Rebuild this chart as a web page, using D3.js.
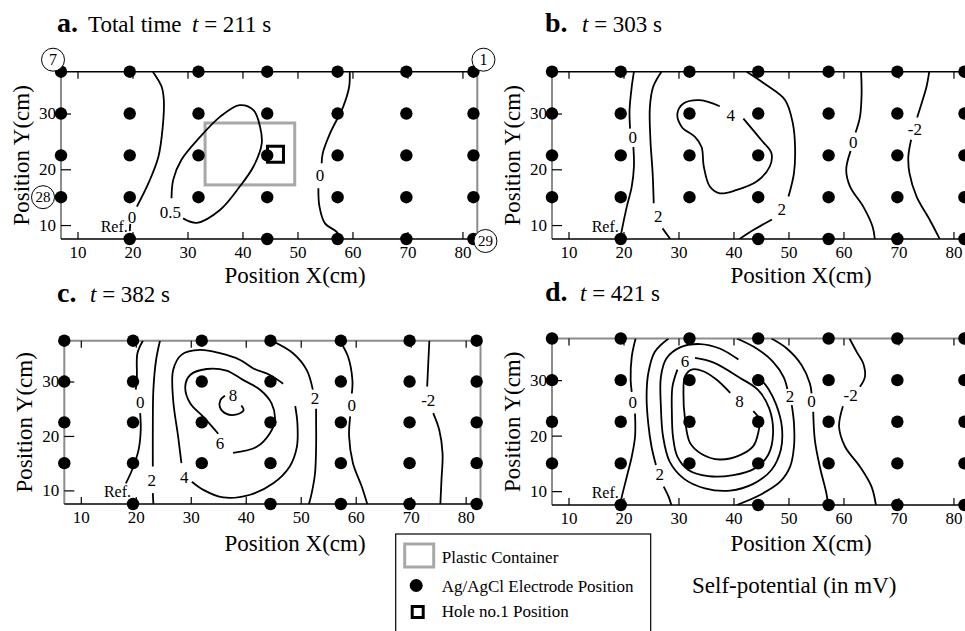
<!DOCTYPE html>
<meta charset="UTF-8">
<style>
body { margin: 0; background: #fff; }
text { font-family: "Liberation Serif", "Times New Roman", serif; fill: #000; }
.contour { fill: none; stroke: #000; stroke-width: 1.8px; }
.clabel { font-size: 17px; text-anchor: middle; }
.frame-side { stroke: #8c8c8c; stroke-width: 2px; }
.frame-bottom { stroke: #000; stroke-width: 1.5px; }
.tick line { stroke: #000; stroke-width: 1.2px; }
.tick text { font-size: 17px; font-family: "Liberation Serif", "Times New Roman", serif; }
.axis-title { font-size: 23px; text-anchor: middle; }
</style>
<body>
<script src="https://cdnjs.cloudflare.com/ajax/libs/d3/7.8.5/d3.min.js"></script>
<script>
// ---- data ----
const xDomain = [7, 82.7];
const yDomain = [7.5, 37.5];
const xTicks = [10, 20, 30, 40, 50, 60, 70, 80];
const yTicks = [10, 20, 30];

// electrode grid (cm)
const electrodeX = [7, 19.5, 32, 44.5, 57.3, 69.8, 82];
const electrodeRowY = [37.5, 30, 22.5, 15];
const bottomRowX = [19.5, 44.5, 57.3, 69.8, 82];
const bottomRowY = 7.5;
const refElectrode = [19.5, 7.5];
const electrodeNumbers = [
  {n: "7", x: 7, y: 37.5}, {n: "1", x: 82, y: 37.5},
  {n: "28", x: 7, y: 15}, {n: "29", x: 82, y: 7.5}
];

// plastic container and hole no.1 (panel a)
const containerX = [33.2, 49.5];
const containerY = [17.2, 28.3];
const holePos = [46.0, 22.7];

const panelLetters = ["a.", "b.", "c.", "d."];
const panelTimes = [211, 303, 382, 421];

// contour lines: level, line pieces (x,y in cm), label spot
const contoursA = [
  {level: "0", at: [19.9, 11.5], segs: [
    [[23.7,37.5],[25.3,34.8],[25.7,32.4],[25.5,27.6],[24.7,22.2],[22.9,17.5],[20.8,13.3]],
    [[19.6,10.2],[19.5,8.9]]]},
  {level: "0.5", at: [26.9, 12.4], segs: [
    [[27.1,14.8],[27.4,18.1],[28.9,21.7],[32.3,25.8],[35.9,29.4],[39.5,31.5],[42.0,30.6],[43.2,27.6],
     [43.5,24.6],[42.0,20.5],[39.5,16.9],[35.9,12.7],[31.7,10.4],[29.2,11.2]]]},
  {level: "0", at: [54.1, 19.0], segs: [
    [[59.5,37.5],[59.4,34.8],[58.3,31.2],[55.9,26.4],[54.6,22.9],[54.4,21.1]],
    [[53.8,16.6],[54.0,13.3],[55.0,10.3],[57.1,8.8],[58.0,7.5]]]}
];
const contoursB = [
  {level: "0", at: [21.7, 25.7], segs: [
    [[21.9,37.5],[21.5,34.8],[21.1,30.6],[21.2,27.3]],
    [[21.8,24.0],[21.9,20.5],[21.5,16.9],[20.6,13.3],[19.7,9.1],[19.4,7.5]]]},
  {level: "2", at: [26.3, 11.6], segs: [
    [[26.9,37.5],[25.4,34.8],[24.8,31.2],[24.9,25.2],[25.3,19.3],[25.5,13.9]],
    [[27.1,9.4],[28.5,7.5]]]},
  {level: "4", at: [39.5, 29.7], segs: [
    [[37.5,31.3],[33.9,32.4],[30.9,31.8],[29.8,30.0],[30.6,27.6],[33.0,25.8],[34.2,24.0],[34.6,20.5],
     [35.7,16.9],[37.5,15.7],[40.6,16.3],[44.2,17.8],[46.6,20.5],[46.9,22.9],[45.1,25.2],[41.8,29.1]]]},
  {level: "2", at: [48.8, 12.9], segs: [
    [[42.4,37.5],[46.0,35.1],[49.4,32.4],[50.8,28.2],[51.2,24.0],[51.0,19.3],[50.0,15.1]],
    [[47.0,11.0],[43.6,9.1],[41.1,7.5]]]},
  {level: "0", at: [61.8, 24.9], segs: [
    [[63.2,37.5],[63.3,33.6],[63.0,29.4],[62.2,26.6]],
    [[61.3,23.3],[60.5,19.9],[61.2,16.9],[63.6,13.3],[65.3,9.7],[65.7,7.5]]]},
  {level: "-2", at: [73.0, 27.3], segs: [
    [[75.6,37.5],[75.1,34.8],[74.2,31.8],[73.4,29.3]],
    [[72.3,25.3],[71.8,22.3],[72.0,19.3],[73.3,15.1],[75.7,10.9],[77.5,7.5]]]}
];
const contoursC = [
  {level: "0", at: [20.8, 26.3], segs: [
    [[21.3,37.5],[20.3,35.2],[20.2,30.9],[20.0,28.5]],
    [[20.8,24.2],[20.9,21.1],[20.5,17.4],[19.3,13.7],[18.2,11.3]]]},
  {level: "2", at: [22.9, 11.9], segs: [
    [[24.4,37.5],[23.7,34.0],[23.2,28.5],[23.1,21.1],[23.1,14.4]],
    [[23.1,9.5],[23.2,7.5]]]},
  {level: "4", at: [28.8, 12.5], segs: [
    [[28.3,15.0],[27.7,19.9],[26.8,26.6],[26.8,32.1],[28.3,34.9],[31.7,35.8],[35.3,35.2],[38.9,34.0],
     [41.4,32.4],[44.4,31.2],[46.8,29.6]],
    [[49.0,25.5],[49.4,22.3],[49.3,18.0],[48.0,14.4],[45.0,11.3],[40.8,9.2],[35.9,8.7],[32.3,10.1],[30.2,11.6]]]},
  {level: "6", at: [35.3, 18.7], segs: [
    [[35.0,20.4],[32.3,23.5],[29.9,26.0],[29.0,29.1],[29.9,31.2],[32.9,32.3],[36.5,32.0],[39.5,30.3],
     [42.6,28.5],[44.7,26.0],[45.3,22.9],[44.4,20.5],[42.0,18.0],[37.7,16.9]]]},
  {level: "8", at: [37.7, 27.5], segs: [
    [[36.2,27.4],[35.4,26.6],[35.3,25.3],[36.4,24.1],[38.2,23.9],[39.6,24.7],[39.2,25.6]]]},
  {level: "2", at: [52.6, 26.9], segs: [
    [[44.7,37.5],[48.6,35.2],[51.1,32.1],[52.2,28.5]],
    [[52.8,25.0],[52.8,22.9],[52.8,18.0],[52.6,13.1],[52.0,9.5],[51.5,7.5]]]},
  {level: "0", at: [59.3, 25.7], segs: [
    [[57.1,37.5],[58.6,34.6],[59.4,30.3],[59.3,27.8]],
    [[59.0,23.6],[58.8,19.9],[59.5,15.0],[61.1,10.7],[62.1,7.5]]]},
  {level: "-2", at: [73.2, 26.6], segs: [
    [[73.4,37.5],[73.2,33.4],[73.0,29.1]],
    [[74.1,24.2],[75.2,21.1],[75.8,16.8],[75.6,11.9],[75.4,7.5]]]}
];
const contoursD = [
  {level: "0", at: [21.7, 26.1], segs: [
    [[22.2,37.5],[21.5,34.2],[21.3,30.0],[21.5,27.9]],
    [[22.1,24.0],[22.1,19.8],[21.5,16.2],[20.6,12.6],[19.7,9.0],[19.4,7.5]]]},
  {level: "2", at: [26.6, 13.0], segs: [
    [[28.2,37.5],[25.7,35.1],[24.5,31.2],[24.2,27.0],[24.5,22.2],[25.1,18.0],[25.9,14.7]],
    [[27.3,10.8],[28.2,9.0],[28.7,7.5]]]},
  {level: "", at: null, segs: [
    [[40.9,33.7],[37.5,35.7],[33.9,36.5],[30.3,35.9],[27.8,33.9],[26.8,30.6],[26.8,25.2],[27.2,19.8],
     [28.4,15.3],[30.9,12.3],[34.8,10.5],[39.4,10.1],[43.6,11.3],[46.9,13.8],[48.6,17.4],[48.8,21.6],
     [47.8,25.5],[46.3,28.5],[44.2,31.0]]]},
  {level: "6", at: [31.2, 33.4], segs: [
    [[33.0,34.0],[36.3,33.2],[41.2,30.4],[44.5,28.2],[46.5,24.9],[47.2,20.4],[46.3,16.5],[43.9,14.1],
     [40.0,12.9],[35.4,12.7],[31.8,13.8],[29.8,16.2],[29.0,19.8],[28.8,24.0],[28.9,28.8],[29.8,31.9]]]},
  {level: "8", at: [41.1, 26.3], segs: [
    [[39.4,27.7],[36.9,30.1],[34.5,31.6],[32.4,31.9],[31.2,30.7],[30.9,27.7],[31.2,22.9],[32.1,18.7],
     [34.2,16.7],[37.5,15.7],[41.2,16.5],[43.6,18.1],[44.5,20.5],[44.7,22.9],[43.6,24.4]]]},
  {level: "2", at: [50.3, 27.1], segs: [
    [[40.6,37.5],[44.2,35.7],[47.2,33.3],[49.1,30.6],[49.8,28.4]],
    [[50.6,25.5],[51.0,22.2],[51.0,18.0],[50.3,14.4],[48.5,11.7],[44.8,9.3],[40.6,7.5]]]},
  {level: "0", at: [54.2, 26.2], segs: [
    [[46.9,37.5],[49.7,35.7],[52.4,32.7],[53.9,29.4],[54.2,27.6]],
    [[54.5,24.3],[54.8,19.2],[55.7,14.4],[56.9,9.6],[57.2,7.5]]]},
  {level: "-2", at: [61.3, 27.3], segs: [
    [[61.1,37.5],[62.4,35.1],[63.6,33.0],[63.9,30.6],[63.0,28.8]],
    [[59.9,25.3],[59.2,21.6],[60.3,18.0],[63.0,14.4],[65.1,10.8],[65.9,7.5]]]}
];
const panelContours = [contoursA, contoursB, contoursC, contoursD];

const legendItems = ["Plastic Container", "Ag/AgCl Electrode Position", "Hole no.1 Position"];

// ---- layout ----
const layout = [
  {left: 61, right: 477.3, top: 71.7, bottom: 239, letterX: 57, titleY: 32, tX: 192, xTitleX: 295, xTitleGap: 43.5, topGrey: false},
  {left: 552, right: 968.3, top: 71.7, bottom: 239, letterX: 545, titleY: 32, tX: 582, xTitleX: 801, xTitleGap: 43.5, topGrey: false},
  {left: 64.3, right: 480.5, top: 340.7, bottom: 504, letterX: 57, titleY: 301.5, tX: 90, xTitleX: 295, xTitleGap: 47, topGrey: true},
  {left: 552, right: 968.3, top: 338.5, bottom: 505, letterX: 545, titleY: 300.5, tX: 580, xTitleX: 801, xTitleGap: 46, topGrey: true}
];
const serif = '"Liberation Serif", "Times New Roman", serif';

const svg = d3.select("body").append("svg")
    .attr("width", 965)
    .attr("height", 631);

function drawPanel(i) {
  const L = layout[i];
  const x = d3.scaleLinear().domain(xDomain).range([L.left, L.right]);
  const y = d3.scaleLinear().domain(yDomain).range([L.bottom, L.top]);
  const g = svg.append("g");

  g.append("clipPath").attr("id", "clip" + i)
    .append("rect")
    .attr("x", L.left).attr("y", L.top)
    .attr("width", L.right - L.left).attr("height", L.bottom - L.top);

  // frame
  g.append("line").attr("class", "frame-side")
    .attr("x1", L.left).attr("x2", L.left).attr("y1", L.top).attr("y2", L.bottom);
  g.append("line").attr("class", "frame-side")
    .attr("x1", L.right).attr("x2", L.right).attr("y1", L.top).attr("y2", L.bottom);
  g.append("line").attr("class", L.topGrey ? "frame-side" : "frame-bottom")
    .attr("x1", L.left).attr("x2", L.right).attr("y1", L.top).attr("y2", L.top);
  g.append("line").attr("class", "frame-bottom")
    .attr("x1", L.left).attr("x2", L.right).attr("y1", L.bottom).attr("y2", L.bottom);

  // axes
  const xb = g.append("g").attr("transform", "translate(0," + L.bottom + ")")
    .call(d3.axisBottom(x).tickValues(xTicks).tickSize(-7).tickPadding(7).tickFormat(d3.format("d")));
  const xt = g.append("g").attr("transform", "translate(0," + L.top + ")")
    .call(d3.axisTop(x).tickValues(xTicks).tickSize(-7).tickFormat(""));
  const yl = g.append("g").attr("transform", "translate(" + L.left + ",0)")
    .call(d3.axisLeft(y).tickValues(yTicks).tickSize(-10).tickPadding(5).tickFormat(d3.format("d")));
  [xb, xt, yl].forEach(a => {
    a.select(".domain").remove();
    a.attr("font-family", serif).attr("font-size", 17);
  });

  // plastic container (first panel only)
  if (i === 0) {
    g.append("rect")
      .attr("x", x(containerX[0])).attr("y", y(containerY[1]))
      .attr("width", x(containerX[1]) - x(containerX[0]))
      .attr("height", y(containerY[0]) - y(containerY[1]))
      .attr("fill", "none").attr("stroke", "#a8a8a8").attr("stroke-width", 3);
  }

  // contour lines
  const line = d3.line()
    .x(d => x(d[0]))
    .y(d => y(d[1]))
    .curve(d3.curveCatmullRom.alpha(0.5));
  panelContours[i].forEach(c => {
    c.segs.forEach(s => {
      g.append("path").attr("class", "contour")
        .attr("clip-path", "url(#clip" + i + ")")
        .attr("d", line(s));
    });
    if (c.at) {
      g.append("text").attr("class", "clabel")
        .attr("x", x(c.at[0])).attr("y", y(c.at[1]))
        .attr("dy", "0.35em")
        .text(c.level);
    }
  });

  // electrodes
  const pts = [];
  electrodeRowY.forEach(ry => electrodeX.forEach(ex => pts.push([ex, ry])));
  bottomRowX.forEach(ex => pts.push([ex, bottomRowY]));
  g.selectAll("circle.el").data(pts).enter().append("circle")
    .attr("class", "el")
    .attr("cx", d => x(d[0])).attr("cy", d => y(d[1]))
    .attr("r", 6.2).attr("fill", "#000");

  if (i === 0) {
    g.append("rect")
      .attr("x", x(holePos[0]) - 8).attr("y", y(holePos[1]) - 8)
      .attr("width", 16).attr("height", 16)
      .attr("fill", "none").attr("stroke", "#000").attr("stroke-width", 3);

    // electrode numbers in circles
    electrodeNumbers.forEach(e => {
      const dx = e.x < 40 ? (e.y < 30 ? -18 : -8) : (e.y < 30 ? 12 : 10);
      const dy = e.y > 30 ? -12 : (e.x < 40 ? 0 : 2);
      const cx = x(e.x) + dx, cy = y(e.y) + dy;
      g.append("circle").attr("cx", cx).attr("cy", cy).attr("r", 11.5)
        .attr("fill", "#fff").attr("stroke", "#000").attr("stroke-width", 1);
      g.append("text").attr("x", cx).attr("y", cy).attr("dy", "0.35em")
        .attr("text-anchor", "middle")
        .attr("font-size", e.n.length > 1 ? 15 : 16)
        .text(e.n);
    });
  }

  // Ref. label
  g.append("text")
    .attr("x", x(refElectrode[0]) - 2).attr("y", y(refElectrode[1]) - 7)
    .attr("text-anchor", "end").attr("font-size", 16)
    .text("Ref.");

  // axis titles
  g.append("text").attr("class", "axis-title")
    .attr("x", L.xTitleX)
    .attr("y", L.bottom + L.xTitleGap)
    .text("Position X(cm)");
  g.append("text").attr("class", "axis-title")
    .attr("transform", "translate(" + (L.left - 32) + "," + (L.top + L.bottom) / 2 + ") rotate(-90)")
    .text("Position Y(cm)");

  // panel title
  g.append("text").attr("x", L.letterX).attr("y", L.titleY)
    .attr("font-size", 28).attr("font-weight", "bold")
    .text(panelLetters[i]);
  const t = g.append("text").attr("y", L.titleY).attr("font-size", 23);
  if (i === 0) t.append("tspan").attr("x", 88).text("Total time");
  t.append("tspan").attr("x", L.tX).attr("font-style", "italic").text("t");
  t.append("tspan").text(" = " + panelTimes[i] + " s");
}

d3.range(4).forEach(drawPanel);

// legend
const lg = svg.append("g").attr("transform", "translate(395.7,534)");
lg.append("rect").attr("x", 0).attr("y", 0).attr("width", 255).attr("height", 110)
  .attr("fill", "#fff").attr("stroke", "#000").attr("stroke-width", 1.2);
const rowY = [28.5, 57.5, 83];
lg.append("rect").attr("x", 9).attr("y", 10).attr("width", 29).attr("height", 23)
  .attr("fill", "none").attr("stroke", "#a8a8a8").attr("stroke-width", 3);
lg.append("circle").attr("cx", 20.5).attr("cy", 51.5).attr("r", 6.5).attr("fill", "#000");
lg.append("rect").attr("x", 16.5).attr("y", 72.5).attr("width", 11).attr("height", 11)
  .attr("fill", "none").attr("stroke", "#000").attr("stroke-width", 3);
lg.selectAll("text.item").data(legendItems).enter().append("text")
  .attr("class", "item")
  .attr("x", 46).attr("y", (d, k) => rowY[k])
  .attr("font-size", 17)
  .text(d => d);

svg.append("text").attr("x", 692).attr("y", 593).attr("font-size", 23)
  .text("Self-potential (in mV)");
</script>
</body>
